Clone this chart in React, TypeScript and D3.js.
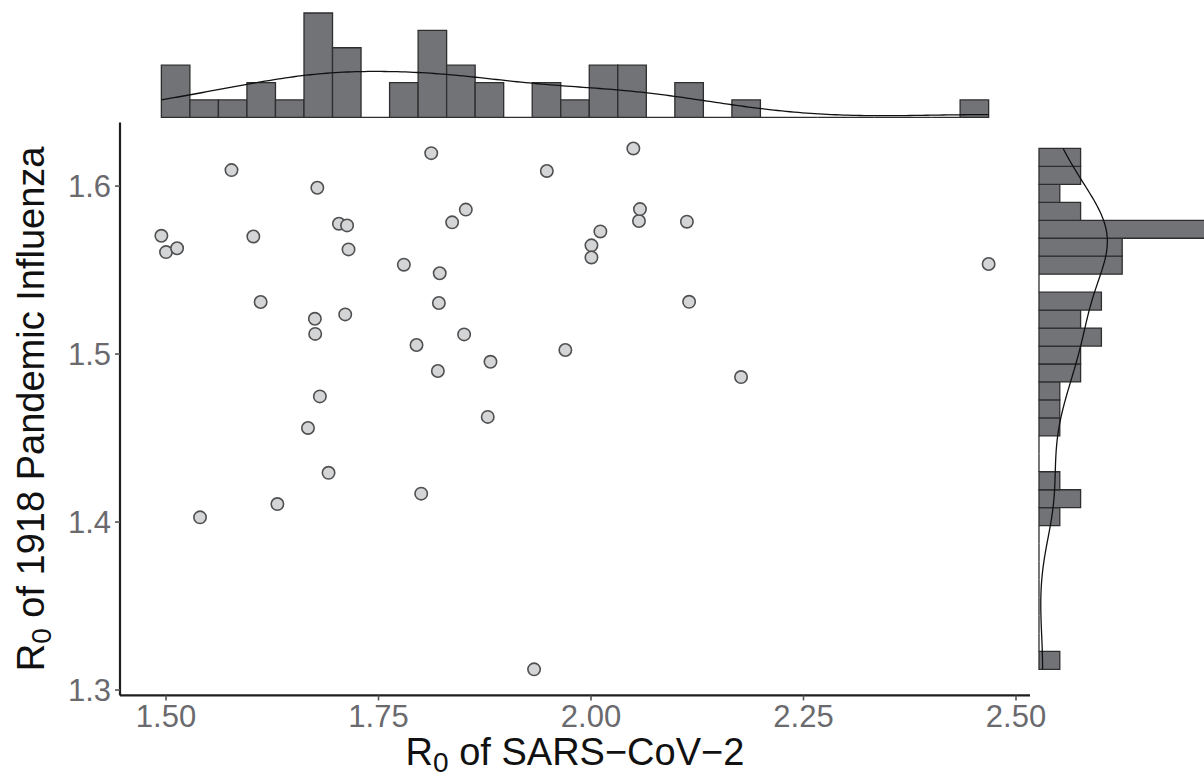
import * as d3 from 'd3';

// R0 pairs (SARS-CoV-2, 1918 influenza)
const sarsR0 = [
  1.4945, 1.5, 1.513, 1.54, 1.577, 1.6027, 1.6113, 1.631, 1.667, 1.6751,
  1.6755, 1.678, 1.681, 1.6912, 1.7034, 1.7108, 1.713, 1.7147, 1.7798, 1.7947,
  1.8002, 1.812, 1.8198, 1.821, 1.822, 1.8366, 1.8507, 1.8527, 1.8785, 1.8817,
  1.933, 1.948, 1.9698, 2.0005, 2.0005, 2.011, 2.0498, 2.0564, 2.0576, 2.1128,
  2.1154, 2.1765, 2.4678,
];
const fluR0 = [
  1.5704, 1.5607, 1.563, 1.4028, 1.6095, 1.57, 1.531, 1.4107, 1.456, 1.521,
  1.512, 1.599, 1.4748, 1.4293, 1.5776, 1.5236, 1.5766, 1.5623, 1.5532, 1.5054,
  1.4169, 1.6196, 1.4899, 1.5304, 1.5481, 1.5784, 1.5117, 1.586, 1.4626, 1.4954,
  1.3123, 1.609, 1.5024, 1.5647, 1.5575, 1.573, 1.6224, 1.5792, 1.5863, 1.5788,
  1.5311, 1.4863, 1.5536,
];
const xTicks = [1.5, 1.75, 2.0, 2.25, 2.5];
const yTicks = [1.3, 1.4, 1.5, 1.6];
const nBins = 29;

const FONT = '"Liberation Sans", Arial, Helvetica, sans-serif';
const BAR_FILL = '#727377';
const BAR_STROKE = '#2e2e2e';

// ggplot-ish helpers
function expandDomain(v: number[]) {
  const [lo, hi] = d3.extent(v) as [number, number];
  const pad = (hi - lo) * 0.05;
  return [lo - pad, hi + pad];
}

function histogram(v: number[]) {
  const [lo, hi] = d3.extent(v) as [number, number];
  const w = (hi - lo) / nBins;
  const bins = d3.bin()
    .domain([lo, hi])
    .thresholds(d3.range(1, nBins).map(i => lo + i * w))(v);
  return { bins, w };
}

// gaussian kde with R's bw.nrd0, scaled to counts
function densityCounts(v: number[], binW: number) {
  const n = v.length;
  const sorted = [...v].sort(d3.ascending);
  const sd = d3.deviation(v) as number;
  const iqr = (d3.quantileSorted(sorted, 0.75)! - d3.quantileSorted(sorted, 0.25)!) / 1.34;
  const bw = 0.9 * Math.min(sd, iqr) * Math.pow(n, -0.2);
  const [lo, hi] = d3.extent(v) as [number, number];
  return d3.range(0, 201).map(i => {
    const x = lo + (hi - lo) * i / 200;
    const k = d3.sum(v, d => Math.exp(-0.5 * ((x - d) / bw) ** 2)) / (n * bw * Math.sqrt(2 * Math.PI));
    return { x, c: k * n * binW };
  });
}

const App = () => {
  const left = 120, right = 1030, top = 122.4, bottom = 695.4;

  const x = d3.scaleLinear().domain(expandDomain(sarsR0)).range([left, right]);
  const y = d3.scaleLinear().domain(expandDomain(fluR0)).range([bottom, top]);

  const topHist = histogram(sarsR0);
  const rightHist = histogram(fluR0);
  const topDens = densityCounts(sarsR0, topHist.w);
  const rightDens = densityCounts(fluR0, rightHist.w);

  const topMax = d3.max(topHist.bins, b => b.length) as number;
  const rightMax = d3.max(rightHist.bins, b => b.length) as number;
  const yc = d3.scaleLinear().domain([0, topMax]).range([117.3, 13]);
  const xc = d3.scaleLinear().domain([0, rightMax]).range([1039, 1205.4]);

  const topLine = d3.line<{ x: number; c: number }>().x(d => x(d.x)).y(d => yc(d.c));
  const rightLine = d3.line<{ x: number; c: number }>().x(d => xc(d.c)).y(d => y(d.x));

  const pts = sarsR0.map((v, i) => ({ sx: v, fy: fluR0[i] }));

  return (
    <svg width={1204} height={779} style={{ position: 'absolute', left: 0, top: 0, background: '#fff' }}
      fontFamily={FONT}>
      {/* top marginal histogram */}
      <g>
        {topHist.bins.map((b, i) => (
          <path key={i}
            d={`M${x(b.x0!)},${yc(0)}V${yc(b.length)}H${x(b.x1!)}V${yc(0)}Z`}
            fill={BAR_FILL} stroke={BAR_STROKE} strokeWidth={1.3} />
        ))}
        <path d={topLine(topDens)!} fill="none" stroke="#111" strokeWidth={1.3} />
      </g>

      {/* right marginal histogram */}
      <g>
        {rightHist.bins.map((b, i) => (
          <path key={i}
            d={`M${xc(0)},${y(b.x0!)}H${xc(b.length)}V${y(b.x1!)}H${xc(0)}Z`}
            fill={BAR_FILL} stroke={BAR_STROKE} strokeWidth={1.3} />
        ))}
        <path d={rightLine(rightDens)!} fill="none" stroke="#111" strokeWidth={1.3} />
      </g>

      {/* points */}
      {pts.map((p, i) => (
        <circle key={i} cx={x(p.sx)} cy={y(p.fy)} r={6.2}
          fill="#d4d5d7" stroke="#505050" strokeWidth={1.6} />
      ))}

      {/* axes */}
      <line x1={left} x2={right} y1={bottom} y2={bottom} stroke="#1e1e1e" strokeWidth={2.2} />
      <line x1={left} x2={left} y1={top} y2={bottom} stroke="#1e1e1e" strokeWidth={2.2} />
      {xTicks.map(t => (
        <g key={t} transform={`translate(${x(t)},${bottom})`}>
          <line y1={0} y2={5} stroke="#555" strokeWidth={1.6} />
          <text y={32} textAnchor="middle" fontSize={31} fill="#6a6a6e">{d3.format('.2f')(t)}</text>
        </g>
      ))}
      {yTicks.map(t => (
        <g key={t} transform={`translate(${left},${y(t)})`}>
          <line x1={-5} x2={0} stroke="#555" strokeWidth={1.6} />
          <text x={-9} dy="0.36em" textAnchor="end" fontSize={31} fill="#6a6a6e">{d3.format('.1f')(t)}</text>
        </g>
      ))}

      {/* axis titles */}
      <text x={(left + right) / 2} y={765} textAnchor="middle" fontSize={38} fill="#111">
        R<tspan fontSize={28} dy={7}>0</tspan><tspan dy={-7}> of SARS−CoV−2</tspan>
      </text>
      <text transform={`translate(44,${(top + bottom) / 2}) rotate(-90)`} textAnchor="middle"
        fontSize={38} fill="#111">
        R<tspan fontSize={28} dy={7}>0</tspan><tspan dy={-7}> of 1918 Pandemic Influenza</tspan>
      </text>
    </svg>
  );
};

export default App;
